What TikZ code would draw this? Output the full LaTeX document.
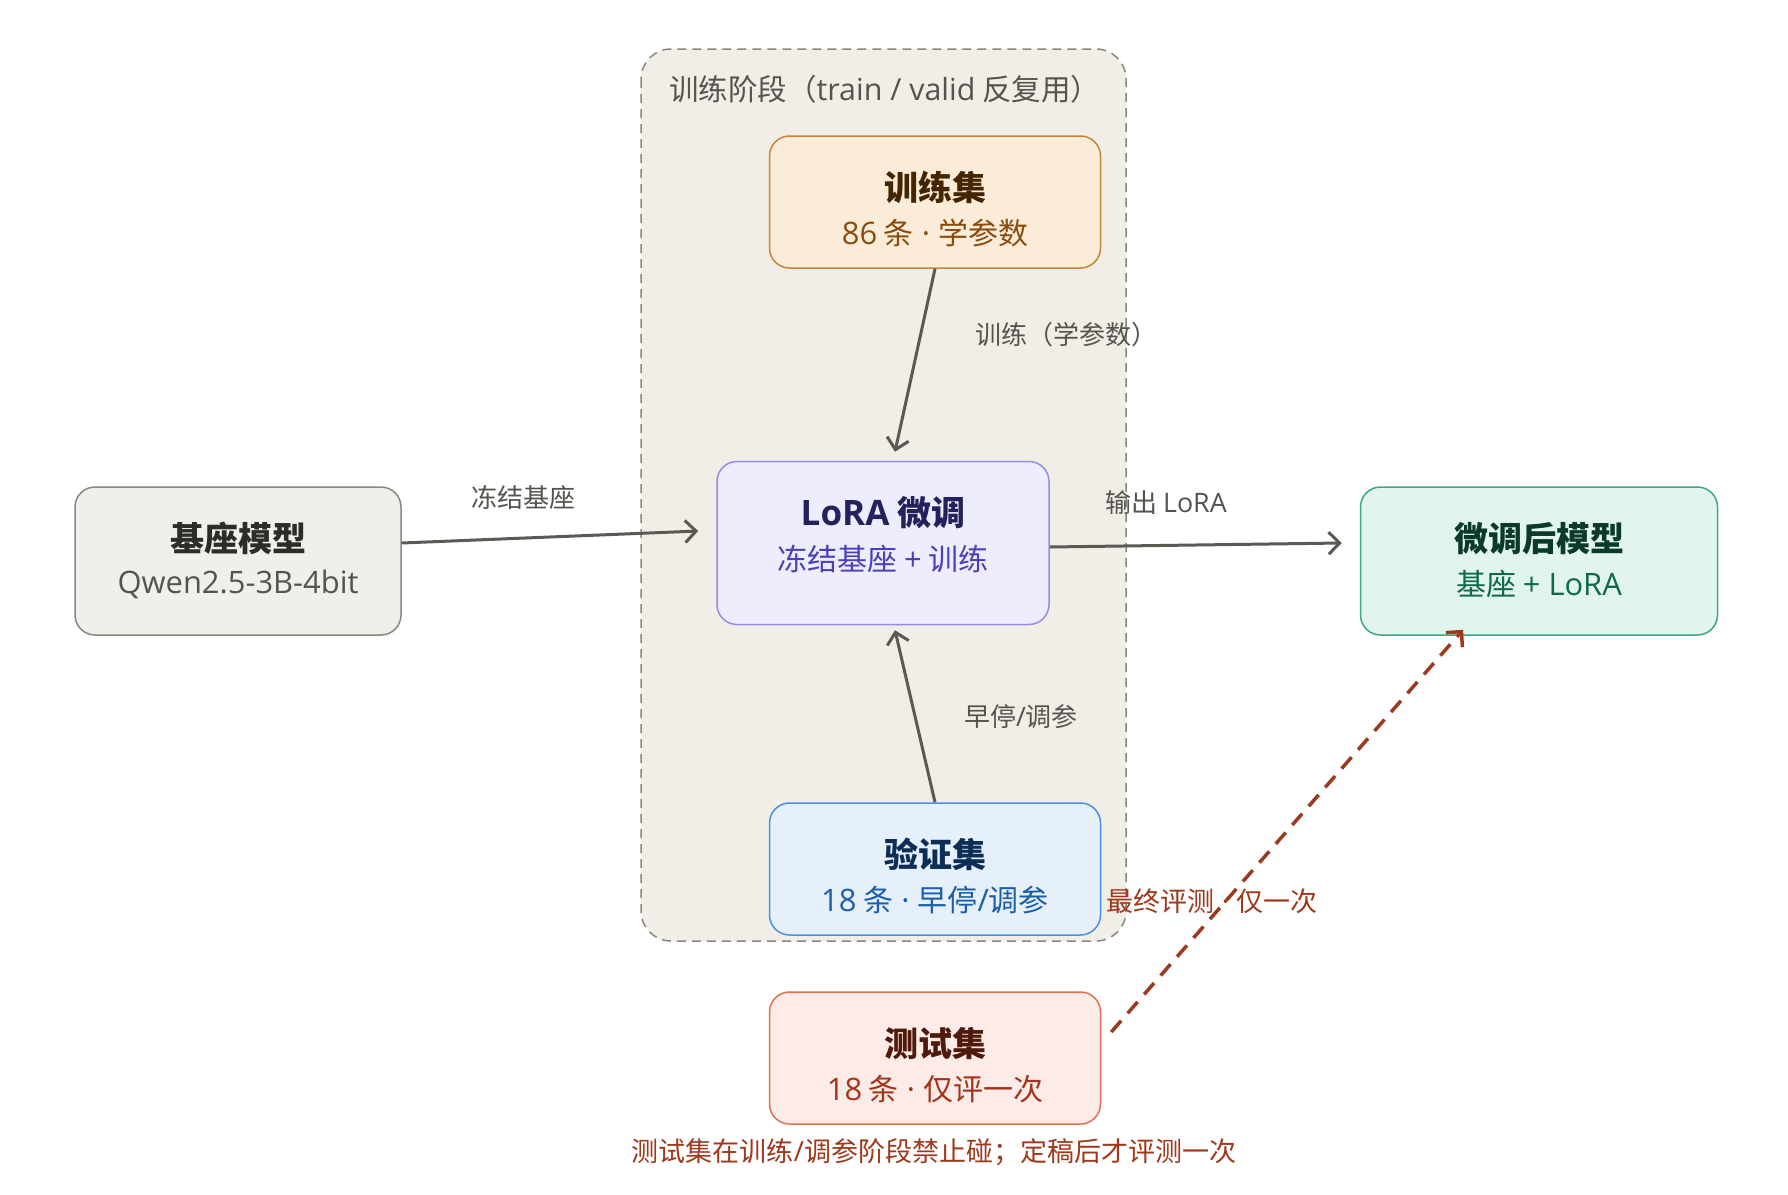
\documentclass[tikz,border=0pt]{standalone}
\usepackage{fontspec}
\setmainfont{Noto Sans CJK SC}
\newfontfamily\latf{Open Sans}[Scale=1.03]
\newcommand{\lt}[1]{{\latf #1}}
\usetikzlibrary{arrows.meta,calc}
\definecolor{clfill}{HTML}{F1EEE8}
\definecolor{clborder}{HTML}{8A8780}
\definecolor{edgegray}{HTML}{5A5954}
\definecolor{lblgray}{HTML}{55534E}
\definecolor{trfill}{HTML}{FBECD9}
\definecolor{trdraw}{HTML}{C8843A}
\definecolor{trtitle}{HTML}{432600}
\definecolor{trsub}{HTML}{8A4B0E}
\definecolor{lofill}{HTML}{EEEDFE}
\definecolor{lodraw}{HTML}{958CE6}
\definecolor{lotitle}{HTML}{26215C}
\definecolor{losub}{HTML}{4E3FB8}
\definecolor{vafill}{HTML}{E6F0FB}
\definecolor{vadraw}{HTML}{4A90E2}
\definecolor{vatitle}{HTML}{0C2D55}
\definecolor{vasub}{HTML}{1C5FA8}
\definecolor{tefill}{HTML}{FCEBE6}
\definecolor{tedraw}{HTML}{E2714F}
\definecolor{tetitle}{HTML}{4E1A0B}
\definecolor{tesub}{HTML}{A3341B}
\definecolor{bafill}{HTML}{F1EFE9}
\definecolor{badraw}{HTML}{8A8780}
\definecolor{batitle}{HTML}{2C2C2A}
\definecolor{basub}{HTML}{55534E}
\definecolor{ftfill}{HTML}{E1F4ED}
\definecolor{ftdraw}{HTML}{3FA783}
\definecolor{fttitle}{HTML}{0A3A29}
\definecolor{ftsub}{HTML}{0E6A4A}
\definecolor{redline}{HTML}{9B3A1E}
\definecolor{redlbl}{HTML}{A0391C}
\tikzset{
  x=1pt, y=-1pt,
  box/.style={draw, rounded corners=20pt, line width=1.5pt, minimum width=#1, inner sep=0pt},
  ttl/.style={font=\fontsize{34}{40}\selectfont\bfseries, inner sep=0pt},
  sub/.style={font=\fontsize{30}{36}\selectfont, inner sep=0pt},
  edge/.style={draw=edgegray, line width=3pt, -{Straight Barb[length=11pt,width=22pt,line width=3pt]}},
  elabel/.style={font=\fontsize{26}{30}\selectfont, text=lblgray, inner sep=0pt},
}
\newcommand{\dt}{\lt{ · }}
\begin{document}
\begin{tikzpicture}
\useasboundingbox (0,0) rectangle (1788,1194);
\fill[white] (0,0) rectangle (1788,1194);
% cluster
\draw[fill=clfill, draw=clborder, line width=1.5pt, dash pattern=on 9pt off 6pt, rounded corners=30pt]
  (641,49) rectangle (1126,941);
\node[anchor=west, font=\fontsize{29.5}{34}\selectfont, text=lblgray, inner sep=0pt] (cltitle) at (669,89) {训练阶段（\lt{train / valid} 反复用）};
% boxes
\node[box=331pt, minimum height=132pt, fill=trfill, draw=trdraw] (train) at (935,202) {};
\node[box=332pt, minimum height=163pt, fill=lofill, draw=lodraw] (lora) at (883,543) {};
\node[box=331pt, minimum height=132pt, fill=vafill, draw=vadraw] (valid) at (935,869) {};
\node[box=331pt, minimum height=132pt, fill=tefill, draw=tedraw] (test) at (935,1058) {};
\node[box=326pt, minimum height=148pt, fill=bafill, draw=badraw] (base) at (238,561) {};
\node[box=357pt, minimum height=148pt, fill=ftfill, draw=ftdraw] (ft) at (1539,561) {};
% box texts
\node[ttl, text=trtitle] (trainT) at ([yshift=-52pt]train.north) {训练集};
\node[sub, text=trsub] (trainS) at ([yshift=-98pt]train.north) {\lt{86} 条\dt 学参数};
\node[ttl, text=lotitle] (loraT) at ([yshift=-52pt]lora.north) {\lt{LoRA} 微调};
\node[sub, text=losub] (loraS) at ([yshift=-98pt]lora.north) {冻结基座 \lt{+} 训练};
\node[ttl, text=vatitle] (validT) at ([yshift=-52pt]valid.north) {验证集};
\node[sub, text=vasub] (validS) at ([yshift=-98pt]valid.north) {\lt{18} 条\dt 早停\lt{/}调参};
\node[ttl, text=tetitle] (testT) at ([yshift=-52pt]test.north) {测试集};
\node[sub, text=tesub] (testS) at ([yshift=-98pt]test.north) {\lt{18} 条\dt 仅评一次};
\node[ttl, text=batitle] (baseT) at ([yshift=-52pt]base.north) {基座模型};
\node[sub, text=basub] (baseS) at ([yshift=-98pt]base.north) {\lt{Qwen2.5-3B-4bit}};
\node[ttl, text=fttitle] (ftT) at ([yshift=-52pt]ft.north) {微调后模型};
\node[sub, text=ftsub] (ftS) at ([yshift=-98pt]ft.north) {基座 \lt{+ LoRA}};
% edges
\draw[edge] ([yshift=18pt]base.east) -- ([xshift=-18pt,yshift=12pt]lora.west);
\draw[edge] (train.south) -- ([xshift=12pt,yshift=9pt]lora.north);
\draw[edge] (valid.north) -- ([xshift=12pt,yshift=-5pt]lora.south);
\draw[edge] ([yshift=-4pt]lora.east) -- ([xshift=-18pt,yshift=18pt]ft.west);
% labels
\node[elabel] (l1) at (523,498) {冻结基座};
\node[elabel] (l2) at (1066,335) {训练（学参数）};
\node[elabel] (l3) at (1021,717) {早停\lt{/}调参};
\node[elabel] (l4) at (1166,503) {输出 \lt{LoRA}};
\node[elabel, text=redlbl, font=\fontsize{27}{30}\selectfont] (l5) at (1212,901) {最终评测\dt 仅一次};
\node[elabel, text=redlbl, font=\fontsize{27}{30}\selectfont] (note) at (934,1152) {测试集在训练\lt{/}调参阶段禁止碰；定稿后才评测一次};
\draw[draw=redline, line width=3.5pt, dash pattern=on 15pt off 10pt,
  -{Straight Barb[length=11pt,width=22pt,line width=3.5pt]}]
  ([xshift=10pt,yshift=26pt]test.east) -- ([xshift=-76pt,yshift=6pt]ft.south);
\end{tikzpicture}
\end{document}
